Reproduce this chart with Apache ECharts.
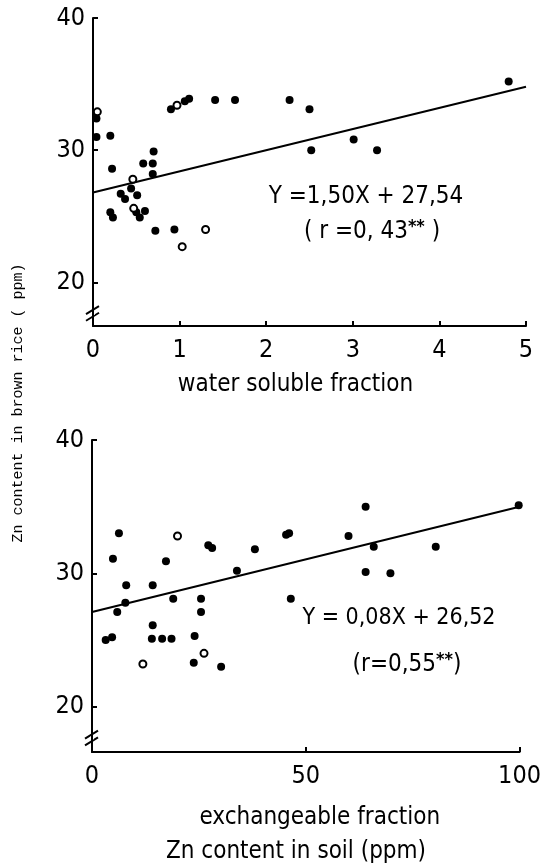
<!DOCTYPE html>
<html>
<head>
<meta charset="utf-8">
<script src="https://cdn.jsdelivr.net/npm/echarts@6/dist/echarts.min.js"></script>
<style>
  html, body { margin: 0; padding: 0; background: #fff; }
  #main { width: 544px; height: 867px; }
</style>
</head>
<body>
<div id="main"></div>
<script>
// Zn in brown rice vs soil fractions
const waterFilled = [
  [0.04, 32.4], [0.04, 31.0], [0.20, 31.1], [0.22, 28.6], [0.20, 25.3], [0.23, 24.9],
  [0.32, 26.7], [0.37, 26.3], [0.44, 27.1], [0.51, 26.6], [0.50, 25.3], [0.54, 24.9],
  [0.60, 25.4], [0.58, 29.0], [0.69, 29.0], [0.70, 29.9], [0.69, 28.2], [0.72, 23.9],
  [0.94, 24.0], [0.90, 33.1], [1.06, 33.7], [1.11, 33.9], [1.41, 33.8], [1.64, 33.8],
  [2.27, 33.8], [2.50, 33.1], [2.52, 30.0], [3.01, 30.8], [3.28, 30.0], [4.80, 35.2]
];
const waterOpen = [[0.05, 32.9], [0.46, 27.8], [0.47, 25.6], [0.97, 33.4], [1.03, 22.7], [1.30, 24.0]];
const waterFit = [[0, 26.8], [5, 34.8]];

const exchFilled = [
  [3.2, 25.0], [4.7, 25.2], [4.9, 31.1], [6.3, 33.0], [5.9, 27.1], [7.8, 27.8], [8.0, 29.1],
  [14.2, 26.1], [14.0, 25.1], [14.2, 29.1], [16.4, 25.1], [17.3, 30.9], [18.6, 25.1], [19.0, 28.1],
  [24.0, 25.3], [23.8, 23.3], [25.5, 28.1], [25.5, 27.1], [27.2, 32.1], [28.1, 31.9], [30.2, 23.0],
  [33.9, 30.2], [38.1, 31.8], [45.4, 32.9], [46.1, 33.0], [46.5, 28.1], [60.0, 32.8], [64.0, 35.0],
  [64.0, 30.1], [65.9, 32.0], [69.8, 30.0], [80.4, 32.0], [99.8, 35.1]
];
const exchOpen = [[11.9, 23.2], [20.0, 32.8], [26.2, 24.0]];
const exchFit = [[0, 27.1], [100, 35.0]];

const yTicks = [20, 30, 40];
const yLow = [16.7, 16.6];   // axis bottom (below the break)
const breakAt = [17.9, 17.4];

const FONT = "'Liberation Sans Narrow', 'DejaVu Sans Condensed', 'Liberation Sans', sans-serif";

const chart = echarts.init(document.getElementById('main'), null, { renderer: 'canvas' });

function yAxisOf(gi) {
  return {
    type: 'value', gridIndex: gi, min: yLow[gi], max: 40,
    axisLine: { show: true, lineStyle: { color: '#000', width: 2 } },
    axisTick: { show: true, inside: true, length: 5, customValues: yTicks, lineStyle: { color: '#000', width: 2 } },
    axisLabel: { customValues: yTicks, color: '#000', fontSize: 25, fontFamily: FONT, margin: 8 },
    splitLine: { show: false }
  };
}

function dots(data, gi, open) {
  return {
    type: 'scatter', xAxisIndex: gi, yAxisIndex: gi, data: data,
    symbol: 'circle', symbolSize: open ? 7 : 8,
    itemStyle: open ? { color: '#fff', borderColor: '#000', borderWidth: 2, opacity: 1 } : { color: '#000', opacity: 1 },
    z: 3
  };
}

function fit(data, gi) {
  return {
    type: 'line', xAxisIndex: gi, yAxisIndex: gi, data: data,
    showSymbol: false, lineStyle: { color: '#000', width: 2 }, z: 2
  };
}

const option = {
  backgroundColor: '#fff',
  animation: false,
  grid: [
    { left: 93, right: 18, top: 18, bottom: 541 },
    { left: 92, right: 20, top: 440, bottom: 115 }
  ],
  xAxis: [
    {
      type: 'value', gridIndex: 0, min: 0, max: 5, interval: 1,
      name: 'water soluble fraction', nameLocation: 'middle', nameGap: 47,
      nameTextStyle: { color: '#000', fontSize: 24, fontFamily: FONT, padding: [0, 28, 0, 0] },
      axisLine: { lineStyle: { color: '#000', width: 2 } },
      axisTick: { inside: true, length: 5, lineStyle: { color: '#000', width: 2 } },
      axisLabel: { color: '#000', fontSize: 25, fontFamily: FONT, margin: 12 },
      splitLine: { show: false }
    },
    {
      type: 'value', gridIndex: 1, min: 0, max: 100, interval: 50,
      name: 'exchangeable fraction', nameLocation: 'middle', nameGap: 54,
      nameTextStyle: { color: '#000', fontSize: 24, fontFamily: FONT, padding: [0, 0, 0, 28] },
      axisLine: { lineStyle: { color: '#000', width: 2 } },
      axisTick: { inside: true, length: 5, lineStyle: { color: '#000', width: 2 } },
      axisLabel: { color: '#000', fontSize: 25, fontFamily: FONT, margin: 12 },
      splitLine: { show: false }
    }
  ],
  yAxis: [yAxisOf(0), yAxisOf(1)],
  series: [
    fit(waterFit, 0), dots(waterFilled, 0, false), dots(waterOpen, 0, true),
    fit(exchFit, 1), dots(exchFilled, 1, false), dots(exchOpen, 1, true)
  ]
};
chart.setOption(option);

// labels, equations and axis break marks
const eq = { fontSize: 24, fontFamily: FONT, fill: '#000', rich: { sup: { fontSize: 18, fontFamily: FONT, fontWeight: 'bold', verticalAlign: 'top', padding: [0, 0, 10, 0] } } };
const graphics = [
  { type: 'text', x: 18, y: 403, rotation: Math.PI / 2, style: { text: 'Zn content in brown rice ( ppm)', fontSize: 15, fontFamily: "'Liberation Mono', 'DejaVu Sans Mono', monospace", fill: '#000', align: 'center', verticalAlign: 'middle' } },
  { type: 'text', x: 366, y: 197, style: Object.assign({ text: 'Y =1,50X + 27,54', align: 'center', verticalAlign: 'middle' }, eq) },
  { type: 'text', x: 372, y: 232, style: Object.assign({ text: '( r =0, 43{sup|**} )', align: 'center', verticalAlign: 'middle' }, eq) },
  { type: 'text', x: 399, y: 618, style: Object.assign({ text: 'Y = 0,08X + 26,52', align: 'center', verticalAlign: 'middle', fontSize: 23 }, eq, { fontSize: 23 }) },
  { type: 'text', x: 407, y: 665, style: Object.assign({ text: '(r=0,55{sup|**})', align: 'center', verticalAlign: 'middle' }, eq) },
  { type: 'text', x: 296, y: 852, style: { text: 'Zn content in soil (ppm)', fontSize: 24, fontFamily: FONT, fill: '#000', align: 'center', verticalAlign: 'middle' } }
];
[0, 1].forEach(function (gi) {
  breakAt.forEach(function (v) {
    const p = chart.convertToPixel({ gridIndex: gi }, [0, v]);
    graphics.push({ type: 'line', shape: { x1: p[0] - 7, y1: p[1] + 4, x2: p[0] + 6, y2: p[1] - 4 }, style: { stroke: '#000', lineWidth: 2 } });
  });
  const a = chart.convertToPixel({ gridIndex: gi }, [0, breakAt[0]]);
  const b = chart.convertToPixel({ gridIndex: gi }, [0, breakAt[1]]);
  graphics.push({ type: 'rect', shape: { x: a[0] - 2, y: a[1] + 2, width: 4, height: b[1] - a[1] - 4 }, style: { fill: '#fff' } });
});
chart.setOption({ graphic: graphics });
</script>
</body>
</html>
